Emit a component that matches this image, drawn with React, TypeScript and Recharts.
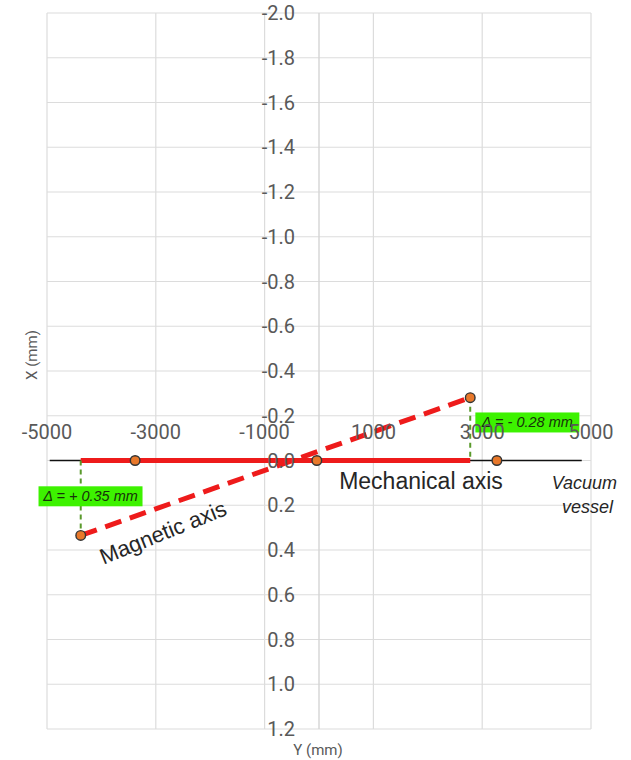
import React from 'react';
import {
    ScatterChart, Scatter, XAxis, YAxis, CartesianGrid, ReferenceLine, ReferenceDot,
} from 'recharts';

// axis ticks
const X_TICKS = [-5000, -3000, -1000, 1000, 3000, 5000];
const Y_TICKS = [-2.0, -1.8, -1.6, -1.4, -1.2, -1.0, -0.8, -0.6, -0.4, -0.2, 0.0, 0.2, 0.4, 0.6, 0.8, 1.0, 1.2];

// series (x = Y position in mm, y = X offset in mm)
const vessel = [{ x: -4950, y: 0 }, { x: 4830, y: 0 }];
const mechanical = [{ x: -4380, y: 0 }, { x: 2780, y: 0 }];
const magnetic = [{ x: -4380, y: 0.335 }, { x: 2780, y: -0.281 }];
const dropLeft = [{ x: -4380, y: 0 }, { x: -4380, y: 0.335 }];
const dropRight = [{ x: 2780, y: -0.281 }, { x: 2780, y: 0 }];
const points = [
    { x: -4380, y: 0.335 }, { x: -3380, y: 0 }, { x: -40, y: 0 }, { x: 2780, y: -0.281 }, { x: 3270, y: 0 },
];

const RED = '#ee1b1b';
const GREEN_LINE = '#5a9a2c';
const TICK_FONT = 'Roboto, "Liberation Sans", sans-serif';
const LABEL_FONT = '"Liberation Sans", Arial, sans-serif';
const tickStyle = { fill: '#595959', fontSize: 20, fontFamily: TICK_FONT };

const noShape = () => <g />;

const marker = (p: any) => (
    <circle cx={p.cx} cy={p.cy} r={4.8} fill="#e8782a" stroke="#333" strokeWidth={1.4} />
);

const deltaBox = (text: string) => (p: any) => (
    <g>
        <rect x={p.cx - 52} y={p.cy - 10} width={104} height={20} fill="#3df200" />
        <text x={p.cx} y={p.cy + 5} textAnchor="middle" fontSize={14.5} fontStyle="italic"
            fontFamily={LABEL_FONT} fill="#17330a">{text}</text>
    </g>
);

const App: React.FC = () => (
    <div style={{ position: 'absolute', left: 0, top: 0, width: 631, height: 760, background: '#fff' }}>
        <ScatterChart width={631} height={760} margin={{ top: 13, right: 40, bottom: 31, left: 47 }}>
            <XAxis type="number" dataKey="x" domain={[-5000, 5000]} hide allowDataOverflow />
            <YAxis type="number" dataKey="y" domain={[-2, 1.2]} reversed hide allowDataOverflow />
            <CartesianGrid stroke="#dcdcdc" strokeWidth={1.2} verticalValues={X_TICKS} horizontalValues={Y_TICKS} />
            <ReferenceLine x={0} stroke="#d4d4d4" strokeWidth={1.4} />

            <Scatter data={vessel} line={{ stroke: '#111', strokeWidth: 1.5 }} shape={noShape} isAnimationActive={false} />
            <Scatter data={mechanical} line={{ stroke: RED, strokeWidth: 5 }} shape={noShape} isAnimationActive={false} />
            <Scatter data={magnetic} line={{ stroke: RED, strokeWidth: 5, strokeDasharray: '17 9' }} shape={noShape} isAnimationActive={false} />
            <Scatter data={dropLeft} line={{ stroke: GREEN_LINE, strokeWidth: 2, strokeDasharray: '5 4' }} shape={noShape} isAnimationActive={false} />
            <Scatter data={dropRight} line={{ stroke: GREEN_LINE, strokeWidth: 2, strokeDasharray: '5 4' }} shape={noShape} isAnimationActive={false} />
            <Scatter data={points} shape={marker} isAnimationActive={false} />

            {Y_TICKS.map((v) => (
                <ReferenceDot key={`y${v}`} x={0} y={v} r={0} stroke="none"
                    label={{ value: v.toFixed(1), position: 'left', offset: 24, ...tickStyle }} />
            ))}
            {X_TICKS.map((v) => (
                <ReferenceDot key={`x${v}`} x={v} y={0} r={0} stroke="none"
                    label={{ value: String(v), position: 'top', offset: 22, ...tickStyle }} />
            ))}

            <ReferenceDot x={-4200} y={0.16} shape={deltaBox('Δ = + 0.35 mm')} />
            <ReferenceDot x={3830} y={-0.17} shape={deltaBox('Δ = - 0.28 mm')} />
            <ReferenceDot x={1875} y={0.09} shape={(p: any) => (
                <text x={p.cx} y={p.cy + 8} textAnchor="middle" fontSize={23} fontFamily={LABEL_FONT} fill="#262626">Mechanical axis</text>
            )} />
            <ReferenceDot x={-2870} y={0.32} shape={(p: any) => (
                <text x={p.cx} y={p.cy + 8} textAnchor="middle" fontSize={22} fontFamily={LABEL_FONT} fill="#262626"
                    transform={`rotate(-22 ${p.cx} ${p.cy})`}>Magnetic axis</text>
            )} />
            <ReferenceDot x={5000} y={0.1} shape={(p: any) => (
                <text textAnchor="end" fontSize={18} fontStyle="italic" fontFamily={LABEL_FONT} fill="#262626">
                    <tspan x={p.cx + 26} y={p.cy + 6}>Vacuum</tspan>
                    <tspan x={p.cx + 22} y={p.cy + 30}>vessel</tspan>
                </text>
            )} />
        </ScatterChart>
        <div style={{ position: 'absolute', left: 318, top: 750, transform: 'translate(-50%, -50%)', fontFamily: TICK_FONT, fontSize: 15, color: '#595959', whiteSpace: 'nowrap' }}>Y (mm)</div>
        <div style={{ position: 'absolute', left: 32, top: 355, transform: 'translate(-50%, -50%) rotate(-90deg)', fontFamily: TICK_FONT, fontSize: 15, color: '#595959', whiteSpace: 'nowrap' }}>X (mm)</div>
    </div>
);

export default App;
